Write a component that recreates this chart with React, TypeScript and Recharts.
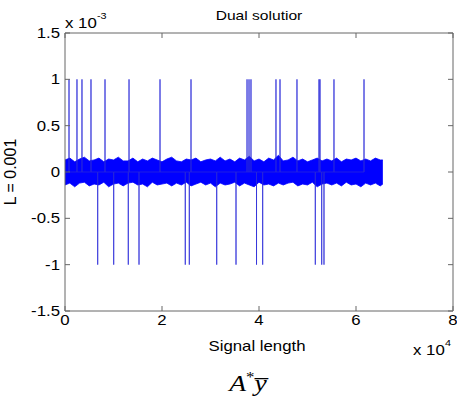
import React from "react";
import { ComposedChart, Area, Line, XAxis, YAxis } from "recharts";

// noise envelope of the dual solution (y in units of 1e-3)
const bandX = [
  0, 1000, 2000, 3000, 4000, 5000, 6000, 7000, 8000, 9000, 10000, 11000, 12000, 13000, 14000,
  15000, 16000, 17000, 18000, 19000, 20000, 21000, 22000, 23000, 24000, 25000, 26000, 27000,
  28000, 29000, 30000, 31000, 32000, 33000, 34000, 35000, 36000, 37000, 38000, 39000, 40000,
  41000, 42000, 43000, 44000, 45000, 46000, 47000, 48000, 49000, 50000, 51000, 52000, 53000,
  54000, 55000, 56000, 57000, 58000, 59000, 60000, 61000, 62000, 63000, 64000, 65000, 65536,
];
const bandHigh = [
  0.13, 0.15, 0.11, 0.14, 0.16, 0.12, 0.13, 0.15, 0.11, 0.14, 0.13, 0.16, 0.12, 0.12, 0.15,
  0.11, 0.14, 0.12, 0.15, 0.13, 0.11, 0.14, 0.16, 0.12, 0.11, 0.14, 0.13, 0.15, 0.11, 0.13,
  0.14, 0.12, 0.16, 0.12, 0.14, 0.11, 0.15, 0.13, 0.17, 0.12, 0.14, 0.11, 0.15, 0.13, 0.18,
  0.12, 0.13, 0.16, 0.12, 0.14, 0.11, 0.13, 0.15, 0.12, 0.14, 0.12, 0.15, 0.11, 0.14, 0.13,
  0.15, 0.12, 0.14, 0.12, 0.15, 0.13, 0.13,
];
const bandLow = [
  -0.14, -0.12, -0.16, -0.12, -0.11, -0.15, -0.13, -0.14, -0.11, -0.16, -0.13, -0.12, -0.15,
  -0.12, -0.11, -0.14, -0.13, -0.16, -0.11, -0.14, -0.13, -0.12, -0.15, -0.12, -0.14, -0.11,
  -0.15, -0.13, -0.11, -0.14, -0.12, -0.16, -0.12, -0.14, -0.13, -0.11, -0.15, -0.12, -0.14,
  -0.16, -0.11, -0.14, -0.13, -0.15, -0.12, -0.14, -0.12, -0.11, -0.15, -0.13, -0.14, -0.11,
  -0.16, -0.13, -0.12, -0.14, -0.12, -0.15, -0.11, -0.14, -0.13, -0.16, -0.12, -0.14, -0.12,
  -0.15, -0.13,
];
// sample positions of the isolated spikes
const spikesUp = [
  825, 2470, 3500, 5360, 8250, 13200, 19590, 25980, 37530, 37940, 38350, 43500, 44330, 47830,
  52370, 52580, 55460, 61650,
];
const spikesDown = [
  6740, 10040, 13050, 15260, 24800, 25630, 31280, 35260, 39490, 40760, 51610, 52930, 53400,
];
const xTicks = [0, 20000, 40000, 60000, 80000];
const yTicks = [-1.5, -1, -0.5, 0, 0.5, 1, 1.5];

const bandData = bandX.map((x, i) => ({ x, band: [bandLow[i], bandHigh[i]] }));

const spikeData = [
  ...spikesUp.map((x) => ({ x, v: 1 })),
  ...spikesDown.map((x) => ({ x, v: -1 })),
]
  .sort((a, b) => a.x - b.x)
  .flatMap((p) => [
    { x: p.x, s: 0 },
    { x: p.x, s: p.v },
    { x: p.x, s: 0 },
  ]);

const FONT = "'Liberation Sans', Arial, Helvetica, sans-serif";
const AXIS = "#666";
const SX = 1.2; // the original figure is a bit stretched horizontally

const Stretch = ({ x, y, size, anchor = "start", dy, children, ...rest }: any) => (
  <text
    transform={`translate(${x},${y}) scale(${SX},1)`}
    textAnchor={anchor}
    fontSize={size}
    fontFamily={FONT}
    fill="#000"
    dy={dy}
    {...rest}
  >
    {children}
  </text>
);

const XTick = ({ x, y, payload }: any) => (
  <Stretch x={x} y={y} size={14} anchor="middle" dy="0.71em">
    {payload.value / 10000}
  </Stretch>
);

const YTick = ({ x, y, payload }: any) => (
  <Stretch x={x} y={y} size={14} anchor="end" dy="0.355em">
    {payload.value}
  </Stretch>
);

export default function App() {
  return (
    <div style={{ position: "absolute", left: 0, top: 0, width: 457, height: 397, background: "#fff" }}>
      <ComposedChart
        width={457}
        height={397}
        data={bandData}
        margin={{ top: 32, right: 3, left: 25, bottom: 56 }}
      >
        <XAxis
          dataKey="x"
          type="number"
          domain={[0, 80000]}
          ticks={xTicks}
          interval={0}
          height={30}
          stroke={AXIS}
          tickSize={-5}
          tickMargin={9}
          tick={<XTick />}
        />
        <XAxis
          xAxisId="top"
          dataKey="x"
          orientation="top"
          type="number"
          domain={[0, 80000]}
          ticks={xTicks}
          interval={0}
          height={1}
          stroke={AXIS}
          tickSize={-5}
          tickFormatter={() => ""}
        />
        <YAxis
          type="number"
          domain={[-1.5, 1.5]}
          ticks={yTicks}
          interval={0}
          width={40}
          stroke={AXIS}
          tickSize={-5}
          tickMargin={10}
          tick={<YTick />}
        />
        <YAxis
          yAxisId="right"
          orientation="right"
          type="number"
          domain={[-1.5, 1.5]}
          ticks={yTicks}
          interval={0}
          width={1}
          stroke={AXIS}
          tickSize={-5}
          tickFormatter={() => ""}
        />
        <Line
          data={spikeData}
          dataKey="s"
          type="linear"
          stroke="#2a2ad8"
          strokeWidth={0.75}
          dot={false}
          isAnimationActive={false}
        />
        <Area
          dataKey="band"
          type="linear"
          stroke="#0000ff"
          strokeWidth={0.8}
          fill="#0000ff"
          fillOpacity={1}
          isAnimationActive={false}
        />
        {/* invisible series so the top and right axes of the box get drawn */}
        <Line
          data={spikeData}
          dataKey="s"
          xAxisId="top"
          yAxisId="right"
          stroke="none"
          dot={false}
          activeDot={false}
          legendType="none"
          isAnimationActive={false}
        />
      </ComposedChart>
      <svg
        width={457}
        height={397}
        style={{ position: "absolute", left: 0, top: 0, pointerEvents: "none" }}
      >
        <Stretch x={259} y={20} size={13} anchor="middle">
          Dual solutior
        </Stretch>
        <Stretch x={65} y={28} size={14}>
          x 10
        </Stretch>
        <Stretch x={97} y={19} size={9}>
          -3
        </Stretch>
        <text
          x={16}
          y={172}
          textAnchor="middle"
          fontSize={16}
          fontFamily={FONT}
          transform="rotate(-90 16 172)"
        >
          L = 0.001
        </text>
        <Stretch x={257} y={351} size={14} anchor="middle">
          Signal length
        </Stretch>
        <Stretch x={413} y={355} size={14}>
          x 10
        </Stretch>
        <Stretch x={445} y={346} size={9}>
          4
        </Stretch>
        <text
          transform={`translate(248,391) scale(${SX},1)`}
          textAnchor="middle"
          fontSize={23}
          fontStyle="italic"
          fontFamily="'Liberation Serif', 'DejaVu Serif', serif"
        >
          A
          <tspan dy={-9} fontSize={14} fontStyle="normal">*</tspan>
          <tspan dy={9}>y&#x305;</tspan>
        </text>
      </svg>
    </div>
  );
}
